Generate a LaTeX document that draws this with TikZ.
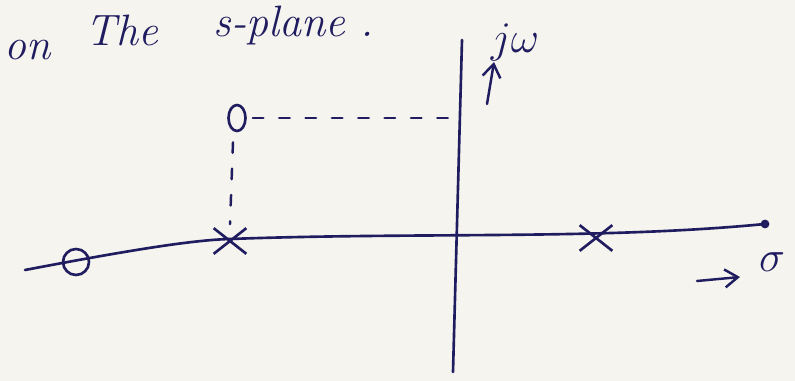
\documentclass[tikz,border=0pt]{standalone}
\usepackage{amsmath,amssymb}
\usepackage{xcolor}
\usepackage{tikz}
\usetikzlibrary{arrows.meta,positioning,calc,shapes.misc,shapes.geometric}

\definecolor{ink}{RGB}{32,28,96}
\definecolor{paper}{RGB}{246,244,238}

\begin{document}
\begin{tikzpicture}[
    x=0.02cm, y=-0.02cm,
    ax/.style={draw=ink, line width=1.5pt, line cap=round},
    lbl/.style={text=ink, font=\fontsize{25}{30}\selectfont\itshape, inner sep=0pt},
    pole/.style={cross out, draw=ink, line width=1.5pt, inner sep=0pt,
                 minimum width=0.6cm, minimum height=0.46cm},
    zero/.style={circle, draw=ink, line width=1.5pt, minimum size=0.52cm, inner sep=0pt},
    zeroup/.style={ellipse, draw=ink, line width=1.5pt, minimum width=0.34cm, minimum height=0.52cm, inner sep=0pt},
    guide/.style={draw=ink, line width=1.4pt, line cap=round, dash pattern=on 6pt off 9pt},
    arr/.style={-{Straight Barb[length=2.6mm, width=3.6mm]}, draw=ink, line width=1.4pt, line cap=round}]
  % paper
  \fill[paper] (0,0) rectangle (795,381);
  \useasboundingbox (0,0) rectangle (795,381);

  % heading
  \node[lbl, anchor=west] (on) at (4,50) {on};
  \node[lbl] (the) at (122,30) {The};
  \node[lbl] (splane) at (294,26) {s-plane .};

  % axes
  \coordinate (vtop) at (462,40);
  \coordinate (vbot) at (453,372);
  \coordinate (hstart) at (25,270);
  \coordinate (hend) at (765,224);
  \draw[ax] (vtop) -- (vbot);
  \draw[ax] (hstart) .. controls (120,252) and (190,240) .. (230,239)
        .. controls (420,232) and (600,240) .. (hend);
  \fill[ink] (hend) circle (2.5pt);

  % poles and zeros
  \node[zero] (z1) at (76,262) {};
  \node[pole] (p1) at (230,241) {};
  \node[pole] (p2) at (596,238) {};
  \node[zeroup] (z2) at (237,118) {};

  % guide lines to the axes
  \coordinate (jwz) at (461,118);
  \draw[guide] (z2.east) ++(6,0) -- (jwz);
  \draw[guide] (z2.south) ++(-4,10) -- ($(p1.north)+(0,-4)$);

  % axis labels
  \node[lbl, font=\fontsize{24}{28}\selectfont] (jw) at (515,42) {$j\omega$};
  \coordinate (upfoot) at (487,104);
  \coordinate (uptip) at (494,62);
  \draw[arr] (upfoot) -- (uptip);
  \node[lbl, font=\fontsize{28}{32}\selectfont] (sigma) at (772,262) {$\sigma$};
  \coordinate (rfoot) at (697,281);
  \coordinate (rtip) at (740,277);
  \draw[arr] (rfoot) -- (rtip);
\end{tikzpicture}
\end{document}
